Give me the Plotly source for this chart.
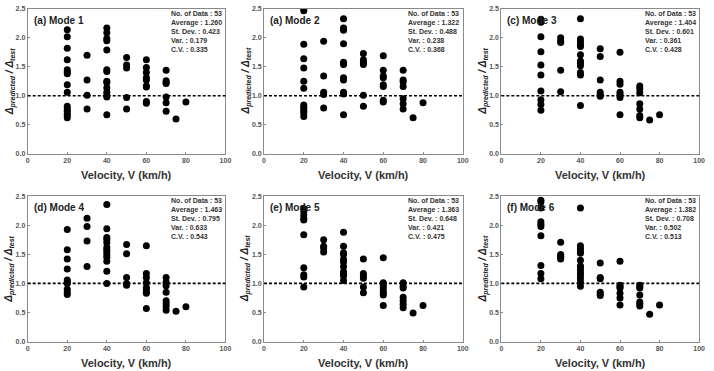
import plotly.graph_objects as go

W, H = 714, 371

# ---------------- data ----------------
mode1_v = [20]*15 + [30]*4 + [40]*14 + [50]*5 + [60]*9 + [70]*7 + [75] + [80]
mode1_r = [2.14, 2.02, 1.82, 1.62, 1.45, 1.41, 1.38, 1.19, 1.06, 0.82, 0.77, 0.73, 0.69, 0.66, 0.62,
           1.70, 1.27, 1.01, 0.77,
           2.17, 2.09, 1.99, 1.95, 1.79, 1.45, 1.42, 1.25, 1.23, 1.14, 1.06, 1.01, 0.98, 0.67,
           1.66, 1.53, 1.48, 0.97, 0.77,
           1.62, 1.49, 1.40, 1.31, 1.27, 1.17, 1.15, 0.90, 0.87,
           1.44, 1.26, 1.23, 1.21, 0.98, 0.88, 0.73,
           0.60, 0.89]

mode2_v = [20]*13 + [30]*5 + [40]*11 + [50]*6 + [60]*8 + [70]*7 + [75] + [80]
mode2_r = [2.51, 2.47, 1.89, 1.64, 1.48, 1.25, 1.13, 0.84, 0.80, 0.77, 0.73, 0.70, 0.64,
           1.94, 1.34, 1.06, 1.02, 0.79,
           2.33, 2.17, 2.13, 1.90, 1.58, 1.54, 1.31, 1.27, 1.06, 1.03, 0.67,
           1.73, 1.62, 1.58, 1.54, 1.01, 0.82,
           1.69, 1.44, 1.34, 1.31, 1.19, 1.16, 0.92, 0.89,
           1.44, 1.27, 1.24, 1.16, 0.95, 0.86, 0.77,
           0.62, 0.88]

mode3_v = [20]*10 + [30]*5 + [40]*12 + [50]*6 + [60]*7 + [70]*7 + [75] + [80]
mode3_r = [2.32, 2.27, 2.02, 1.76, 1.53, 1.36, 1.08, 0.93, 0.85, 0.75,
           2.00, 1.95, 1.92, 1.44, 1.07,
           2.33, 1.98, 1.93, 1.89, 1.85, 1.71, 1.60, 1.56, 1.52, 1.40, 1.36, 0.83,
           1.81, 1.68, 1.27, 1.06, 1.02, 0.99,
           1.75, 1.25, 1.20, 1.06, 1.02, 0.97, 0.67,
           1.17, 1.12, 1.05, 0.86, 0.77, 0.66, 0.62,
           0.58, 0.67]

mode4_v = [20]*10 + [30]*4 + [40]*13 + [50]*5 + [60]*9 + [70]*8 + [75] + [80]
mode4_r = [1.93, 1.58, 1.42, 1.25, 1.06, 1.02, 1.00, 0.90, 0.85, 0.81,
           2.12, 1.98, 1.73, 1.29,
           2.36, 1.94, 1.79, 1.75, 1.70, 1.62, 1.58, 1.54, 1.49, 1.45, 1.38, 1.21, 1.00,
           1.67, 1.51, 1.10, 1.00, 0.97,
           1.65, 1.17, 1.10, 1.01, 0.93, 0.89, 0.85, 0.83, 0.57,
           1.10, 1.02, 0.96, 0.85, 0.70, 0.65, 0.60, 0.54,
           0.52, 0.60]

mode5_v = [20]*10 + [30]*4 + [40]*11 + [50]*6 + [60]*8 + [70]*7 + [75] + [80]
mode5_r = [2.29, 2.24, 2.18, 2.12, 2.09, 1.84, 1.27, 1.15, 1.11, 0.94,
           1.75, 1.64, 1.61, 1.54,
           1.88, 1.64, 1.53, 1.50, 1.41, 1.37, 1.29, 1.20, 1.16, 1.13, 1.05,
           1.42, 1.17, 1.13, 1.09, 0.94, 0.84,
           1.44, 1.01, 0.97, 0.92, 0.87, 0.83, 0.80, 0.62,
           1.01, 0.95, 0.92, 0.76, 0.70, 0.64, 0.58,
           0.49, 0.62]

mode6_v = [20]*10 + [30]*5 + [40]*14 + [50]*6 + [60]*7 + [70]*7 + [75] + [80]
mode6_r = [2.43, 2.40, 2.30, 2.06, 2.02, 1.98, 1.82, 1.31, 1.17, 1.08,
           1.71, 1.50, 1.47, 1.45, 1.42,
           2.30, 1.65, 1.60, 1.55, 1.52, 1.40, 1.30, 1.27, 1.22, 1.17, 1.13, 1.08, 1.02, 0.95,
           1.35, 1.10, 1.08, 0.85, 0.82, 0.79,
           1.38, 0.97, 0.94, 0.92, 0.83, 0.75, 0.63,
           0.97, 0.94, 0.92, 0.80, 0.68, 0.65, 0.61,
           0.47, 0.63]

panel_titles = ["(a) Mode 1", "(a) Mode 2", "(c) Mode 3", "(d) Mode 4", "(e) Mode 5", "(f) Mode 6"]
n_data = [53, 53, 53, 53, 53, 53]
averages = ["1.260", "1.322", "1.404", "1.463", "1.363", "1.382"]
st_devs = ["0.423", "0.488", "0.601", "0.795", "0.648", "0.708"]
variances = ["0.179", "0.238", "0.361", "0.633", "0.421", "0.502"]
cvs = ["0.335", "0.368", "0.428", "0.543", "0.475", "0.513"]

x_ticks = [0, 20, 40, 60, 80, 100]
y_ticks = [0.0, 0.5, 1.0, 1.5, 2.0, 2.5]
REF_LINE = 1.0

series = [(mode1_v, mode1_r), (mode2_v, mode2_r), (mode3_v, mode3_r),
          (mode4_v, mode4_r), (mode5_v, mode5_r), (mode6_v, mode6_r)]

# ---------------- layout geometry (pixels) ----------------
col_px = [(26, 226), (265, 466), (505, 705)]
row_px = [(5, 152.5), (196, 344)]

FONT = "Liberation Sans Narrow, Arial Narrow, Liberation Sans, Arial, sans-serif"

fig = go.Figure()
layout_axes = {}
annotations = []
shapes = []

for i, (xs, ys) in enumerate(series):
    r, c = divmod(i, 3)
    k = i + 1
    xa = "x" if k == 1 else f"x{k}"
    ya = "y" if k == 1 else f"y{k}"
    fig.add_trace(go.Scatter(
        x=xs, y=ys, mode="markers", xaxis=xa, yaxis=ya,
        marker=dict(color="black", size=7, line=dict(width=0)),
        showlegend=False, hoverinfo="skip"))

    x0p, x1p = col_px[c]
    y0p, y1p = row_px[r]
    xd = [x0p / W, x1p / W]
    yd = [1 - y1p / H, 1 - y0p / H]
    axcommon = dict(showline=True, mirror=True, linecolor="#8a8a8a", linewidth=1,
                    showgrid=False, zeroline=False, ticks="inside", ticklen=2,
                    tickcolor="#8a8a8a",
                    tickfont=dict(family=FONT, size=7, color="#555555", weight="bold"))
    layout_axes["xaxis" if k == 1 else f"xaxis{k}"] = dict(
        domain=xd, range=[0, 100], tickvals=x_ticks, anchor=ya, **axcommon)
    layout_axes["yaxis" if k == 1 else f"yaxis{k}"] = dict(
        domain=yd, range=[0, 2.5], tickvals=y_ticks, tickformat=".1f", anchor=xa, **axcommon)

    shapes.append(dict(type="line", xref=f"{xa} domain", yref=ya, x0=0, x1=1,
                       y0=REF_LINE, y1=REF_LINE,
                       line=dict(color="black", width=1.6, dash="3px,2px")))

    # panel label
    annotations.append(dict(text="<b>" + panel_titles[i] + "</b>", xref="paper", yref="paper",
                            x=(x0p + 4) / W, y=1 - (y0p + 4) / H, xanchor="left", yanchor="top",
                            showarrow=False, font=dict(family=FONT, size=10, color="#222222")))
    # stats box
    stats = (f"No. of Data : {n_data[i]}<br>Average : {averages[i]}<br>St. Dev. : {st_devs[i]}"
             f"<br>Var. : {variances[i]}<br>C.V. : {cvs[i]}")
    annotations.append(dict(text="<b>" + stats + "</b>", xref="paper", yref="paper",
                            x=(x1p - 57) / W, y=1 - (y0p - 1) / H, xanchor="left", yanchor="top",
                            align="left", showarrow=False,
                            font=dict(family=FONT, size=7, color="#333333")))
    # x title
    annotations.append(dict(text="<b>Velocity, V (km/h)</b>", xref="paper", yref="paper",
                            x=(x0p + x1p) / 2 / W, y=1 - (y1p + 22) / H,
                            xanchor="center", yanchor="middle", showarrow=False,
                            font=dict(family=FONT, size=11, color="#333333")))
    # y title
    annotations.append(dict(text="<b><i>Δ<sub>predicted</sub> / Δ<sub>test</sub></i></b>",
                            xref="paper", yref="paper",
                            x=(x0p - 18) / W, y=1 - ((y0p + y1p) / 2) / H,
                            xanchor="center", yanchor="middle", textangle=-90, showarrow=False,
                            font=dict(family=FONT, size=10, color="#222222")))

fig.update_layout(
    width=W, height=H, margin=dict(l=0, r=0, t=0, b=0),
    paper_bgcolor="white", plot_bgcolor="white",
    annotations=annotations, shapes=shapes, **layout_axes)

fig.write_html("out.html")
